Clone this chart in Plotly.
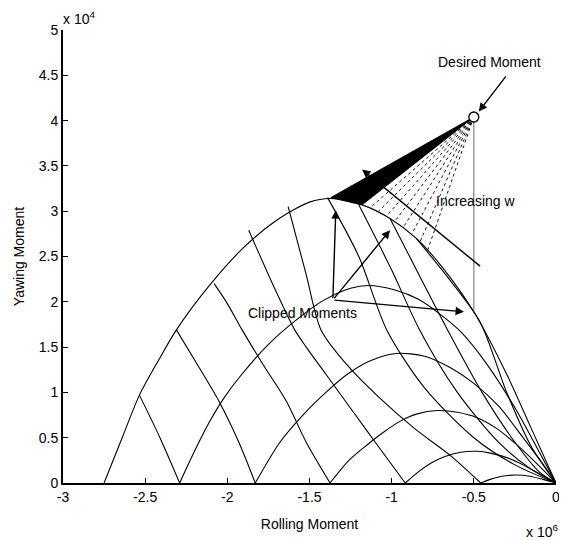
import plotly.graph_objects as go

# ---- data (scaled units: x in 1e6, y in 1e4) ----
outer_x = [-2.75, -2.64, -2.535, -2.42, -2.31, -2.1, -1.9, -1.7, -1.5, -1.37, -1.18, -1.01, -0.85, -0.7, -0.5, -0.3, -0.15, 0]
outer_y = [0, 0.5, 0.97, 1.35, 1.69, 2.2, 2.6, 2.9, 3.1, 3.14, 3.07, 2.92, 2.7, 2.4, 1.89, 1.2, 0.6, 0]
arch5_x = [-2.29, -2.2, -2.11, -2.02, -1.925, -1.75, -1.58, -1.42, -1.25, -1.14, -0.98, -0.84, -0.71, -0.58, -0.42, -0.25, -0.125, 0]
arch5_y = [0, 0.35, 0.67, 0.94, 1.17, 1.53, 1.8, 2.01, 2.15, 2.18, 2.13, 2.03, 1.87, 1.67, 1.31, 0.83, 0.42, 0]
arch4_x = [-1.83, -1.68, -1.54, -1.4, -1.27, -1.13, -0.97, -0.8, -0.65, -0.5, -0.35, -0.2, -0.1, 0]
arch4_y = [0, 0.45, 0.75, 1.0, 1.2, 1.35, 1.43, 1.4, 1.28, 1.1, 0.85, 0.5, 0.26, 0]
arch3_x = [-1.375, -1.26, -1.15, -1.05, -0.95, -0.85, -0.72, -0.6, -0.48, -0.36, -0.25, -0.12, 0]
arch3_y = [0, 0.25, 0.42, 0.56, 0.68, 0.76, 0.8, 0.78, 0.72, 0.6, 0.44, 0.22, 0]
arch2_x = [-0.917, -0.84, -0.76, -0.68, -0.58, -0.48, -0.4, -0.3, -0.2, -0.1, 0]
arch2_y = [0, 0.12, 0.22, 0.29, 0.34, 0.35, 0.33, 0.28, 0.2, 0.1, 0]
arch1_x = [-0.458, -0.4, -0.33, -0.24, -0.16, -0.08, 0]
arch1_y = [0, 0.04, 0.075, 0.088, 0.075, 0.04, 0]
crossA5_x = [-2.29, -2.41, -2.535]
crossA5_y = [0, 0.5, 0.97]
crossA4_x = [-1.83, -1.93, -2.05, -2.18, -2.31]
crossA4_y = [0, 0.45, 0.9, 1.3, 1.69]
crossA3_x = [-1.375, -1.52, -1.64, -1.78, -1.91, -2.0, -2.08]
crossA3_y = [0, 0.45, 0.9, 1.3, 1.69, 1.98, 2.2]
crossA2_x = [-0.917, -1.08, -1.24, -1.4, -1.52, -1.59, -1.7, -1.87]
crossA2_y = [0, 0.4, 0.8, 1.2, 1.5, 1.69, 2.1, 2.79]
crossA1_x = [-0.458, -0.64, -0.86, -1.08, -1.27, -1.43, -1.52, -1.63]
crossA1_y = [0, 0.3, 0.6, 0.95, 1.3, 1.69, 2.3, 3.05]
ray_x = [[-1.39, -1.2, -1.03, -0.8, -0.5, -0.25, 0],
         [-1.2, -1.0, -0.83, -0.6, -0.35, -0.15, 0],
         [-1.01, -0.82, -0.66, -0.45, -0.25, -0.1, 0],
         [-0.85, -0.65, -0.46, -0.3, -0.15, 0]]
ray_y = [[3.15, 2.5, 1.69, 1.05, 0.5, 0.2, 0],
         [3.07, 2.35, 1.69, 1.0, 0.45, 0.15, 0],
         [2.92, 2.25, 1.69, 1.0, 0.45, 0.12, 0],
         [2.7, 2.25, 1.77, 1.0, 0.4, 0]]
desired_x = [-0.5]
desired_y = [4.04]
clip_floor_y = [1.89]
wedge_x = [-0.5, -1.37, -1.18, -0.5]
wedge_y = [4.04, 3.15, 3.07, 4.04]
fan_x = [-1.13, -1.08, -1.03, -0.98, -0.93, -0.88, -0.83, -0.785]
fan_y = [3.04, 3.0, 2.95, 2.89, 2.82, 2.74, 2.65, 2.55]
xticks = [-3, -2.5, -2, -1.5, -1, -0.5, 0]
xtick_text = ["-3", "-2.5", "-2", "-1.5", "-1", "-0.5", "0"]
yticks = [0, 0.5, 1, 1.5, 2, 2.5, 3, 3.5, 4, 4.5, 5]
ytick_text = ["0", "0.5", "1", "1.5", "2", "2.5", "3", "3.5", "4", "4.5", "5"]

FONT = "Liberation Sans"
fig = go.Figure()
LW = 1.1

def curve(xs, ys, width=LW, color="black", dash="solid", shape="spline"):
    fig.add_trace(go.Scatter(x=xs, y=ys, mode="lines", hoverinfo="skip",
                             line=dict(color=color, width=width, dash=dash, shape=shape, smoothing=0.8)))

for xs, ys in [(outer_x, outer_y), (arch5_x, arch5_y), (arch4_x, arch4_y), (arch3_x, arch3_y),
               (arch2_x, arch2_y), (arch1_x, arch1_y), (crossA5_x, crossA5_y), (crossA4_x, crossA4_y),
               (crossA3_x, crossA3_y), (crossA2_x, crossA2_y), (crossA1_x, crossA1_y)]:
    curve(xs, ys)
for xs, ys in zip(ray_x, ray_y):
    curve(xs, ys)

# vertical clip line
curve([desired_x[0], desired_x[0]], [desired_y[0], clip_floor_y[0]], width=1, color="#666", shape="linear")
# dotted fan of clipped moments for increasing w
for cx, cy in zip(fan_x, fan_y):
    curve([desired_x[0], cx], [desired_y[0], cy], width=0.9, dash="dot", shape="linear")
# dense solid wedge
fig.add_trace(go.Scatter(x=wedge_x, y=wedge_y, mode="lines", fill="toself", fillcolor="black",
                         hoverinfo="skip", line=dict(color="black", width=1)))

fig.add_trace(go.Scatter(x=desired_x, y=desired_y, mode="markers", hoverinfo="skip",
                         marker=dict(size=10, color="white", line=dict(color="black", width=1.3))))

def arrow(x0, y0, x1, y1):
    fig.add_annotation(x=x1, y=y1, ax=x0, ay=y0, xref="x", yref="y", axref="x", ayref="y",
                       showarrow=True, arrowhead=2, arrowsize=1.2, arrowwidth=1.4,
                       arrowcolor="black", text=" ", font=dict(size=1))
arrow(-0.296, 4.51, -0.47, 4.1)
arrow(-0.453, 2.38, -1.18, 3.46)
arrow(-1.358, 2.02, -1.34, 3.01)
arrow(-1.358, 2.02, -1.01, 2.79)
arrow(-1.358, 2.02, -0.56, 1.89)

def text(x, y, s, xanchor="center"):
    fig.add_annotation(x=x, y=y, xref="x", yref="y", text=s, showarrow=False, xanchor=xanchor,
                       yanchor="middle", font=dict(family=FONT, size=14, color="black"))
text(-0.405, 4.65, "Desired Moment")
text(-0.74, 3.11, "Increasing w", xanchor="left")
text(-1.545, 1.88, "Clipped Moments")

fig.add_annotation(x=0.0, y=1.0, xref="paper", yref="paper", xanchor="left", yanchor="bottom",
                   yshift=1, xshift=-2, text="x 10<sup>4</sup>", showarrow=False,
                   font=dict(family=FONT, size=14, color="black"))
fig.add_annotation(x=1.0, y=0.0, xref="paper", yref="paper", xanchor="right", yanchor="bottom",
                   xshift=4, yshift=-59, text="x 10<sup>6</sup>", showarrow=False,
                   font=dict(family=FONT, size=14, color="black"))

fig.update_layout(
    width=559, height=532,
    margin=dict(l=55, r=7, t=22, b=57),
    paper_bgcolor="white", plot_bgcolor="white",
    showlegend=False,
    font=dict(family=FONT, size=14, color="black"),
    xaxis=dict(range=[-3, 0], tickvals=xticks, ticktext=xtick_text, ticks="inside", ticklen=5,
               tickcolor="black", showline=True, linecolor="black", linewidth=1.8, showgrid=False,
               zeroline=False, title=dict(text="Rolling Moment", standoff=15, font=dict(size=14))),
    yaxis=dict(range=[0, 5], tickvals=yticks, ticktext=ytick_text, ticks="inside", ticklen=5,
               tickcolor="black", showline=True, linecolor="black", linewidth=1.8, showgrid=False,
               zeroline=False, title=dict(text="Yawing Moment", standoff=11, font=dict(size=14))),
)
fig.write_html("out.html")
